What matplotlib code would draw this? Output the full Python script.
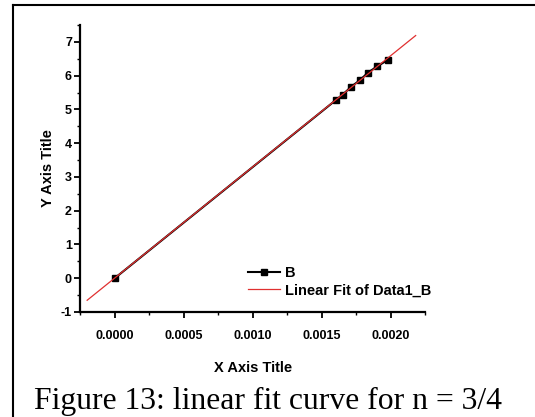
import numpy as np
import matplotlib.pyplot as plt
from matplotlib.lines import Line2D
from matplotlib.ticker import MultipleLocator, FormatStrFormatter

# datos (serie B)
x_b = [0.0, 0.001606, 0.001652, 0.001713, 0.001774, 0.001835, 0.001903, 0.001976]
y_b = [0.0, 5.29, 5.44, 5.67, 5.86, 6.09, 6.28, 6.46]

# rango de la recta de ajuste
x_fit_range = [-0.0002, 0.00218]

plt.rcParams['font.family'] = ['Liberation Sans', 'DejaVu Sans']
plt.rcParams['font.weight'] = 'bold'
plt.rcParams['axes.unicode_minus'] = False

fig = plt.figure(figsize=(5.35, 4.17), dpi=100)
ax = fig.add_axes([0.150, 0.252, 0.645, 0.688])

# ajuste lineal con numpy
modelo = np.poly1d(np.polyfit(x_b, y_b, 1))
xs = np.linspace(x_fit_range[0], x_fit_range[1], 50)

ax.plot(x_b, y_b, color='black', lw=1.5, marker='s', ms=5, label='B', zorder=2)
ax.plot(xs, modelo(xs), color='#e03030', lw=0.9, label='Linear Fit of Data1_B', zorder=3)

ax.set_xlim(-0.00025, 0.00225)
ax.set_ylim(-1, 7.5)
ax.xaxis.set_major_locator(MultipleLocator(0.0005))
ax.xaxis.set_minor_locator(MultipleLocator(0.00025))
ax.xaxis.set_major_formatter(FormatStrFormatter('%.4f'))
ax.yaxis.set_major_locator(MultipleLocator(1))
ax.yaxis.set_minor_locator(MultipleLocator(0.5))

for s in ['top', 'right']:
    ax.spines[s].set_visible(False)
for s in ['left', 'bottom']:
    ax.spines[s].set_linewidth(1.6)

ax.tick_params(which='major', direction='out', length=4, width=1.3, labelsize=9)
ax.tick_params(which='minor', direction='out', length=2.5, width=1.0)
ax.tick_params(axis='x', pad=9)
ax.tick_params(axis='y', pad=2)

ax.set_xlabel('X Axis Title', fontsize=10.5, fontweight='bold', labelpad=14)
ax.set_ylabel('Y Axis Title', fontsize=10.5, fontweight='bold', labelpad=4)

ax.legend(loc='lower right', bbox_to_anchor=(1.046, 0.015), frameon=False,
          fontsize=10.5, handlelength=2.2, handletextpad=0.3, borderpad=0.2,
          labelspacing=0.25)

# pie de figura
fig.text(0.064, 0.02, 'Figure 13: linear fit curve for n = 3/4',
         family='Liberation Serif', fontweight='normal', fontsize=22.8)

# marco de la celda
fig.add_artist(Line2D([0.024, 0.024], [0, 0.988], color='black', lw=1.5,
                      transform=fig.transFigure))
fig.add_artist(Line2D([0.024, 1.0], [0.988, 0.988], color='black', lw=1.5,
                      transform=fig.transFigure))

fig.savefig('out.png', dpi=100)
